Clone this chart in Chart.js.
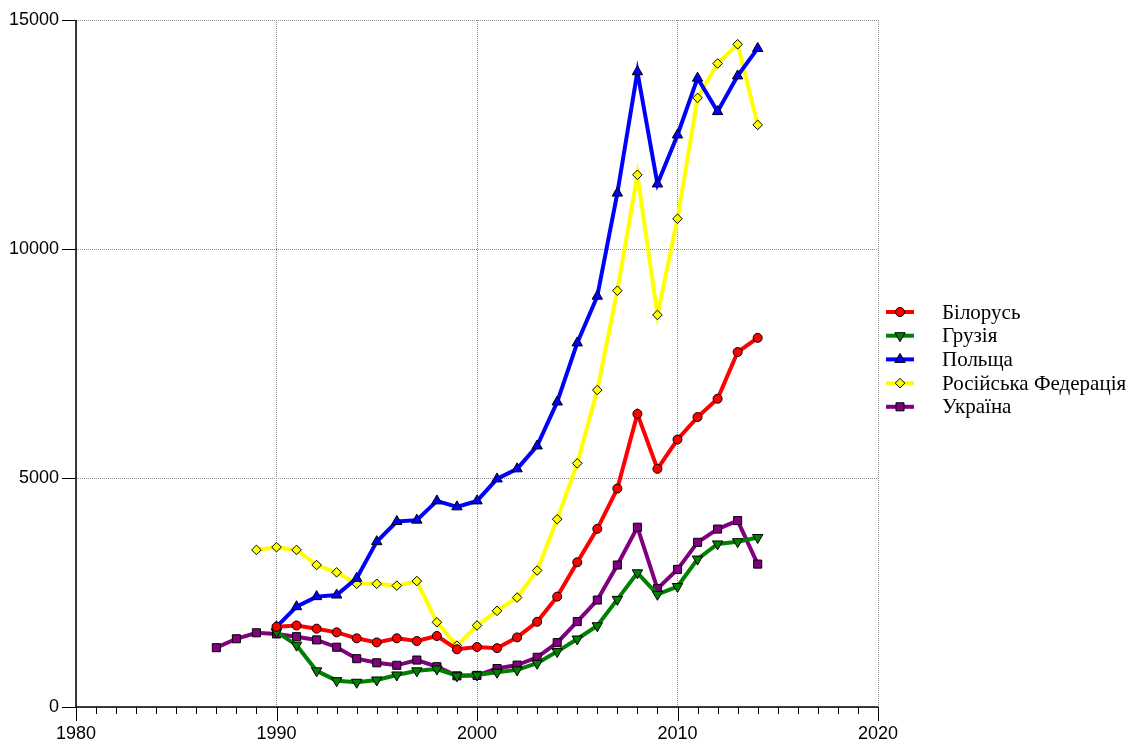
<!DOCTYPE html>
<html><head><meta charset="utf-8">
<script src="https://cdn.jsdelivr.net/npm/chart.js@4/dist/chart.umd.min.js"></script>
<style>html,body{margin:0;padding:0;background:#fff}#wrap{width:1131px;height:740px}</style>
</head><body><div id="wrap"><canvas id="c" width="1131" height="740"></canvas></div>
<script>
const belarusYears = [1990,1991,1992,1993,1994,1995,1996,1997,1998,1999,2000,2001,2002,2003,2004,2005,2006,2007,2008,2009,2010,2011,2012,2013,2014];
const belarus = [1750,1780,1710,1630,1500,1410,1500,1440,1550,1260,1310,1285,1520,1860,2410,3160,3890,4770,6400,5200,5840,6330,6730,7750,8060];
const georgiaYears = belarusYears;
const georgia = [1640,1350,790,575,540,590,700,790,830,680,700,760,810,955,1210,1485,1775,2350,2930,2460,2630,3230,3560,3610,3700];
const polandYears = belarusYears;
const poland = [1750,2190,2410,2445,2810,3610,4050,4080,4500,4370,4500,4980,5200,5700,6660,7950,8970,11220,13870,11420,12490,13730,13000,13780,14380];
const russiaYears = [1989,1990,1991,1992,1993,1994,1995,1996,1997,1998,1999,2000,2001,2002,2003,2004,2005,2006,2007,2008,2009,2010,2011,2012,2013,2014];
const russia = [3430,3490,3430,3100,2940,2690,2690,2650,2750,1850,1340,1780,2100,2390,2980,4100,5320,6920,9090,11620,8560,10660,13300,14050,14470,12710];
const ukraineYears = [1987,1988,1989,1990,1991,1992,1993,1994,1995,1996,1997,1998,1999,2000,2001,2002,2003,2004,2005,2006,2007,2008,2009,2010,2011,2012,2013,2014];
const ukraine = [1295,1490,1620,1595,1535,1465,1305,1055,965,910,1025,880,680,690,840,915,1085,1405,1865,2335,3100,3925,2585,3005,3595,3885,4070,3120];
const seriesNames = ['Білорусь','Грузія','Польща','Російська Федерація','Україна'];
const xTicks = [1980,1990,2000,2010,2020];
const yTicks = [0,5000,10000,15000];

const pts = (xs, ys) => xs.map((x,i)=>({x:x,y:ys[i]}));
function ds(label, data, color, style, r, rot){
  return {label, data, borderColor:color, backgroundColor:color, borderWidth:4,
    pointStyle:style, pointRadius:r, pointHoverRadius:r, pointRotation:rot||0,
    pointBorderColor:'#000', pointBorderWidth:1, pointBackgroundColor:color, tension:0};
}
const datasets = [
  ds(seriesNames[0], pts(belarusYears, belarus), '#ff0000', 'circle', 4.5),
  ds(seriesNames[1], pts(georgiaYears, georgia), '#008000', 'triangle', 6, 180),
  ds(seriesNames[2], pts(polandYears, poland), '#0000ff', 'triangle', 6),
  ds(seriesNames[3], pts(russiaYears, russia), '#ffff00', 'rectRot', 4.8),
  ds(seriesNames[4], pts(ukraineYears, ukraine), '#800080', 'rect', 5.7),
];

const axisPlugin = {
  id:'axisTicks',
  afterDraw(chart){
    const c = chart.ctx, x = chart.scales.x, y = chart.scales.y, a = chart.chartArea;
    c.save();
    c.strokeStyle = '#000'; c.lineWidth = 1;
    c.beginPath();
    for(let yr=1980; yr<=2020; yr++){
      const px = Math.round(x.getPixelForValue(yr))+0.5;
      const len = (yr%10===0)?14:7;
      c.moveTo(px, a.bottom); c.lineTo(px, a.bottom+len);
    }
    yTicks.forEach(v=>{
      const py = Math.round(y.getPixelForValue(v))+0.5;
      c.moveTo(a.left-14, py); c.lineTo(a.left, py);
    });
    c.stroke();
    c.lineWidth = 1.5;
    c.beginPath();
    c.moveTo(a.left, a.top); c.lineTo(a.left, a.bottom); c.lineTo(a.right, a.bottom);
    c.stroke();
    // legend
    const lx = 886, lw = 28, tx = 942, y0 = 312, dy = 23.7;
    c.font = '21px "Liberation Serif", "Times New Roman", serif';
    c.textBaseline = 'middle'; c.textAlign = 'left';
    chart.data.datasets.forEach((d,i)=>{
      const yy = y0 + i*dy;
      c.strokeStyle = d.borderColor; c.lineWidth = 4;
      c.beginPath(); c.moveTo(lx, yy); c.lineTo(lx+lw, yy); c.stroke();
      c.fillStyle = d.pointBackgroundColor; c.strokeStyle = '#000'; c.lineWidth = 1;
      Chart.helpers.drawPoint(c, {pointStyle:d.pointStyle, radius:d.pointRadius, rotation:d.pointRotation, borderWidth:1}, lx+lw/2, yy);
      c.fillStyle = '#000';
      c.fillText(d.label, tx, yy+1);
    });
    c.restore();
  }
};

new Chart(document.getElementById('c'), {
  type:'line',
  data:{datasets},
  options:{
    responsive:false, animation:false, clip:false,
    layout:{padding:{left:0, right:253, top:20, bottom:0}},
    plugins:{legend:{display:false}, tooltip:{enabled:false}},
    scales:{
      x:{type:'linear', min:1980, max:2020,
        afterBuildTicks(s){ s.ticks = xTicks.map(v=>({value:v})); },
        afterFit(s){ s.height = 33; s.paddingLeft = 0; s.paddingRight = 0; },
        grid:{drawTicks:false, color:'#8c8c8c', lineWidth:1},
        border:{display:false, dash:[1,1]},
        ticks:{padding:16, color:'#000', font:{family:'"Liberation Sans", Arial, sans-serif', size:18}, callback:v=>String(v), maxRotation:0, autoSkip:false}
      },
      y:{type:'linear', min:0, max:15000,
        afterBuildTicks(s){ s.ticks = yTicks.map(v=>({value:v})); },
        afterFit(s){ s.width = 76; s.paddingTop = 0; s.paddingBottom = 0; },
        grid:{drawTicks:false, color:'#8c8c8c', lineWidth:1},
        border:{display:false, dash:[1,1]},
        ticks:{padding:17, color:'#000', font:{family:'"Liberation Sans", Arial, sans-serif', size:18}, callback:v=>String(v)}
      }
    }
  },
  plugins:[axisPlugin]
});
</script></body></html>
